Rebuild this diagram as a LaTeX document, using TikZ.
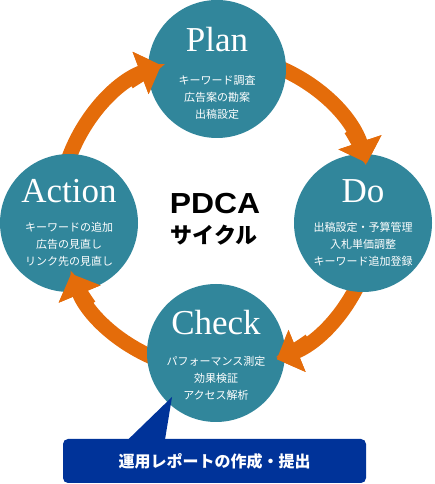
\documentclass[tikz,border=0pt]{standalone}
\usepackage{fontspec}
\setmainfont{Liberation Serif}
\newfontfamily\jpfont{Noto Sans CJK JP}
\newfontfamily\hubfont{Liberation Sans}
\usetikzlibrary{arrows.meta}

\definecolor{phaseteal}{RGB}{49,134,155}
\definecolor{floworange}{RGB}{228,108,10}
\definecolor{reportblue}{RGB}{0,51,153}

\tikzset{
  phase/.style={circle, fill=phaseteal, minimum size=138pt, inner sep=0pt},
  phasename/.style={anchor=base, text=white, inner sep=0pt, font=\fontsize{35}{35}\selectfont},
  phaseitems/.style={text=white, align=center, inner sep=0pt, font=\jpfont\fontsize{11}{17}\selectfont},
  flowhead/.style={draw=floworange, line width=15pt, -{Triangle[length=22pt,width=44pt]}},
  callout/.style={fill=reportblue, rounded corners=5pt, minimum width=303pt, minimum height=44pt,
    text=white, font=\jpfont\bfseries\fontsize{16}{16}\selectfont},
}

\begin{document}
\begin{tikzpicture}[x=1pt,y=1pt]
        \useasboundingbox (0,0) rectangle (434,484);
        \coordinate (hub) at (217,271);
        % ==== ARROWS (behind) ====
        \coordinate (pd-tail) at ([shift={(75:158pt)}]hub);
        \coordinate (dc-tail) at ([shift={(-15:158pt)}]hub);
        \coordinate (ca-tail) at ([shift={(-105:158pt)}]hub);
        \coordinate (ap-tail) at ([shift={(165:158pt)}]hub);
        \draw[flowhead] (pd-tail) arc[start angle=75, end angle=18.4, radius=158pt];
        \draw[flowhead] (dc-tail) arc[start angle=-15, end angle=-67.8, radius=158pt];
        \draw[flowhead] (ca-tail) arc[start angle=-105, end angle=-157.4, radius=158pt];
        \draw[flowhead] (ap-tail) arc[start angle=165, end angle=110.7, radius=158pt];

        % ==== PHASES ====
        \node[phase] (plan) at (217,415) {};
        \node[phase] (do) at (363,261) {};
        \node[phase] (check) at (216,131) {};
        \node[phase] (action) at (69,261) {};

        \node[phasename] (plan-name) at ([yshift=17pt]plan.center) {Plan};
        \node[phaseitems] (plan-items) at ([yshift=-28pt]plan.center) {キーワード調査\\広告案の勘案\\出稿設定};
        \node[phasename] (do-name) at ([yshift=20pt]do.center) {Do};
        \node[phaseitems] (do-items) at ([yshift=-21pt]do.center) {出稿設定・予算管理\\入札単価調整\\キーワード追加登録};
        \node[phasename] (check-name) at ([yshift=18pt]check.center) {Check};
        \node[phaseitems] (check-items) at ([yshift=-25pt]check.center) {パフォーマンス測定\\効果検証\\アクセス解析};
        \node[phasename] (action-name) at ([yshift=20pt]action.center) {Action};
        \node[phaseitems] (action-items) at ([yshift=-21pt]action.center) {キーワードの追加\\広告の見直し\\リンク先の見直し};

        % ==== ARROW HEADS (front) ====
        \coordinate (pd-head) at ([shift={(32:158pt)}]hub);
        \coordinate (dc-head) at ([shift={(-54:158pt)}]hub);
        \coordinate (ca-head) at ([shift={(-144:158pt)}]hub);
        \coordinate (ap-head) at ([shift={(124:158pt)}]hub);
        \draw[flowhead] (pd-head) arc[start angle=32, end angle=18.4, radius=158pt];
        \draw[flowhead] (dc-head) arc[start angle=-54, end angle=-67.8, radius=158pt];
        \draw[flowhead] (ca-head) arc[start angle=-144, end angle=-157.4, radius=158pt];
        \draw[flowhead] (ap-head) arc[start angle=124, end angle=110.7, radius=158pt];

        % ==== CENTRE ====
        \node[font=\hubfont\bfseries\fontsize{29}{29}\selectfont] (pdca) at (215,280) {\scalebox{1.1}[1]{PDCA}};
        \node[font=\jpfont\bfseries\fontsize{22}{22}\selectfont] (cycle) at (214,249) {サイクル};

        % ==== REPORT ====
        \node[callout] (report) at (214.5,23) {運用レポートの作成・提出};
        \coordinate (report-tip) at (172,87);
        \fill[reportblue] ([xshift=64pt,yshift=-2pt]report.north west) -- (report-tip)
            -- ([xshift=102pt,yshift=-2pt]report.north west) -- cycle;
\end{tikzpicture}
\end{document}
